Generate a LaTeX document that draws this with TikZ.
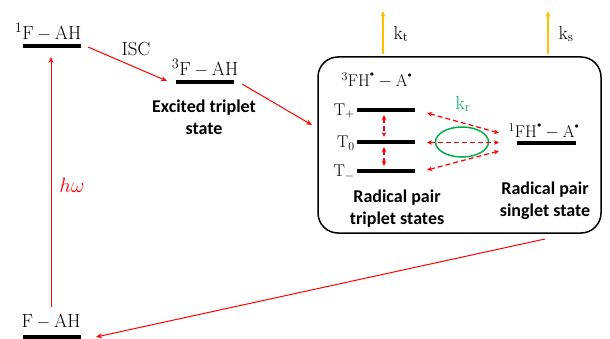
\documentclass[tikz,border=0pt]{standalone}
\usepackage{fontspec}
\usepackage{graphicx}
\newfontfamily\labfont{Carlito}
\usetikzlibrary{arrows.meta,shapes.geometric}
\definecolor{korange}{RGB}{255,192,0}
\definecolor{kgreen}{RGB}{0,176,80}
\tikzset{
  levelbar/.style={line width=4pt, black},
  redarrow/.style={red, line width=1pt, -{Stealth[length=6pt,width=5pt]}},
  dasharrow/.style={draw=red, dashed, dash pattern=on 5pt off 3pt, line width=1.2pt, {Stealth[length=5pt,width=4.5pt,fill=red]}-{Stealth[length=5pt,width=4.5pt,fill=red]}},
  orangearrow/.style={korange, line width=1.5pt, -{Stealth[length=6pt,width=5pt]}},
  statetext/.style={inner sep=0pt, font=\fontsize{17}{20}\selectfont},
  bigtext/.style={inner sep=0pt, font=\fontsize{19}{22}\selectfont},
  boldlabel/.style={inner sep=0pt, align=center, font=\labfont\bfseries\fontsize{18}{22}\selectfont},
}
\newcommand{\rdot}{^{\raisebox{0.35ex}{$\scriptscriptstyle\bullet$}}}
\begin{document}
\begin{tikzpicture}[x=1pt,y=-1pt]
\useasboundingbox (0,0) rectangle (610,339);

% ground state
\node[bigtext] (g) at (51,322) {$\mathrm{F}-\mathrm{AH}$};
\coordinate (gl) at (23,337); \coordinate (gr) at (81,337);
\draw[levelbar] (gl) -- (gr);

% singlet excited
\node[bigtext] (s1) at (48,32) {${}^1\mathrm{F}-\mathrm{AH}$};
\coordinate (s1l) at (23,46); \coordinate (s1r) at (81,46);
\draw[levelbar] (s1l) -- (s1r);

% triplet excited
\node[bigtext] (t1) at (205,68) {${}^3\mathrm{F}-\mathrm{AH}$};
\coordinate (t1l) at (176,82); \coordinate (t1r) at (234,82);
\draw[levelbar] (t1l) -- (t1r);
\node[boldlabel] (t1lab) at (204,117) {Excited triplet\\state};

% excitation
\coordinate (hwbot) at (51,307); \coordinate (hwtop) at (51,57);
\draw[redarrow] (hwbot) -- (hwtop);
\node[inner sep=0pt, font=\fontsize{22}{24}\selectfont, red] (hw) at (72,185) {$h\omega$};

% ISC
\coordinate (isc1) at (88,47); \coordinate (isc2) at (167,81);
\draw[redarrow] (isc1) -- (isc2);
\node[bigtext] (isc) at (136,49) {ISC};

% to radical pair
\coordinate (rp1) at (242,84); \coordinate (rp2) at (312,125);
\draw[redarrow] (rp1) -- (rp2);

% box
\node[draw, line width=1.5pt, rounded corners=20pt, minimum width=283pt, minimum height=176pt, inner sep=0pt] (box) at (459.5,145) {};

% rate arrows
\coordinate (kt1) at (383,54); \coordinate (kt2) at (383,11);
\draw[orangearrow] (kt1) -- (kt2);
\node[bigtext] (kt) at (401,34) {$\mathrm{k_t}$};
\coordinate (ks1) at (548,54); \coordinate (ks2) at (548,11);
\draw[orangearrow] (ks1) -- (ks2);
\node[bigtext] (ks) at (566,34) {$\mathrm{k_s}$};

% radical pair triplet
\node[statetext] (rpt) at (377,80) {${}^3\mathrm{FH}\rdot-\mathrm{A}\rdot$};
\node[statetext, anchor=east] (tp) at (355,111) {$\mathrm{T}_+$};
\node[statetext, anchor=east] (t0) at (355,143) {$\mathrm{T}_0$};
\node[statetext, anchor=east] (tm) at (355,173) {$\mathrm{T}_-$};
\coordinate (tpl) at (357,110); \coordinate (tpr) at (415,110);
\coordinate (t0l) at (357,142); \coordinate (t0r) at (415,142);
\coordinate (tml) at (357,171); \coordinate (tmr) at (415,171);
\draw[levelbar] (tpl) -- (tpr);
\draw[levelbar] (t0l) -- (t0r);
\draw[levelbar] (tml) -- (tmr);
\coordinate (v1a) at (384,115); \coordinate (v1b) at (384,137);
\coordinate (v2a) at (384,147); \coordinate (v2b) at (384,166);
\draw[dasharrow] (v1a) -- (v1b);
\draw[dasharrow] (v2a) -- (v2b);
\node[boldlabel] (rptlab) at (397,209) {Radical pair\\triplet states};

% singlet radical pair
\node[statetext] (rps) at (544,131) {${}^1\mathrm{FH}\rdot-\mathrm{A}\rdot$};
\coordinate (rpsl) at (517,143); \coordinate (rpsr) at (576,143);
\draw[levelbar] (rpsl) -- (rpsr);
\node[boldlabel] (rpslab) at (545,201) {Radical pair\\singlet state};

% interconversion
\node[draw=kgreen, line width=1.5pt, ellipse, minimum width=53pt, minimum height=30pt, inner sep=0pt] (ell) at (462,142) {};
\node[bigtext, kgreen] (kr) at (463,104) {$\mathrm{k_r}$};
\coordinate (d1a) at (427,113); \coordinate (d1b) at (499,133);
\coordinate (d2a) at (427,142.5); \coordinate (d2b) at (499,142.5);
\coordinate (d3a) at (427,170); \coordinate (d3b) at (499,151);
\draw[dasharrow] (d1a) -- (d1b);
\draw[dasharrow] (d2a) -- (d2b);
\draw[dasharrow] (d3a) -- (d3b);

% recombination
\coordinate (rc1) at (545,239); \coordinate (rc2) at (96,337);
\draw[redarrow] (rc1) -- (rc2);
\end{tikzpicture}
\end{document}
